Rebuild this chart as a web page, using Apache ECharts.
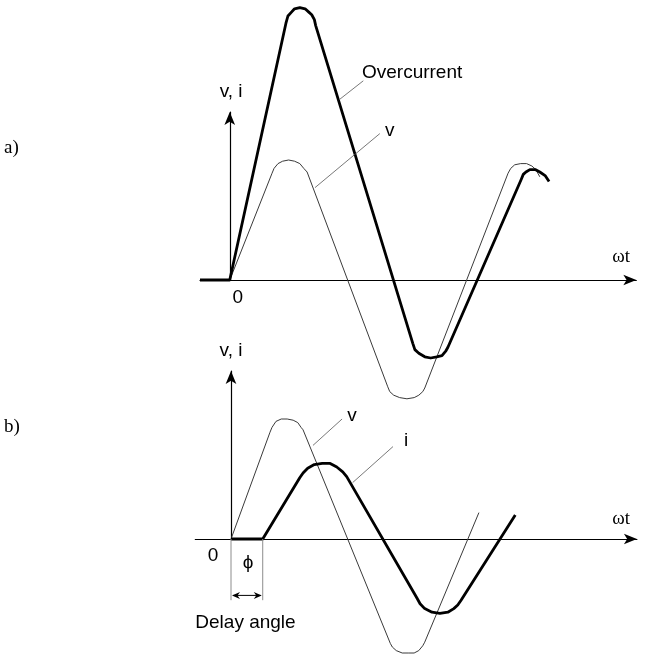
<!DOCTYPE html>
<html>
<head>
<meta charset="utf-8">
<script src="https://cdn.jsdelivr.net/npm/echarts@6/dist/echarts.min.js"></script>
<style>
  html, body { margin: 0; padding: 0; background: #fff; }
  #chart { width: 646px; height: 654px; }
</style>
</head>
<body>
<div id="chart"></div>
<script>
// Waveforms as [ωt in electrical degrees, amplitude relative to the voltage peak].

// a) Switching at the voltage zero: the current overshoots (overcurrent).
const overcurrentA = [
  [-45, 0], [0, 0],
  [85, 2.14], [88, 2.2], [93, 2.23], [98, 2.26], [106, 2.27], [114, 2.26], [120, 2.23], [124, 2.21], [128, 2.17], [130, 2.12],
  [277, -0.53], [280, -0.58], [286, -0.61], [295, -0.64], [304, -0.65], [313, -0.64], [321, -0.63], [327, -0.59], [330, -0.56],
  [441, 0.84], [444, 0.88], [448, 0.9], [454, 0.92], [462, 0.92], [469, 0.9], [477, 0.87], [483, 0.82]
];
const voltageA = [
  [0, 0],
  [64, 0.89], [67, 0.93], [73, 0.97], [80, 0.99], [89, 1.0], [98, 0.99], [106, 0.97], [112, 0.93], [117, 0.9],
  [239, -0.89], [242, -0.93], [248, -0.96], [257, -0.98], [268, -0.99], [279, -0.98], [286, -0.96], [292, -0.93], [295, -0.9],
  [421, 0.89], [425, 0.93], [431, 0.96], [440, 0.97], [449, 0.97], [457, 0.95], [463, 0.92], [469, 0.86]
];

// b) Switching delayed by the angle φ: the current stays symmetrical.
const delayAngle = 48;
const voltageB = [
  [0, 0],
  [59, 0.89], [62, 0.93], [68, 0.98], [76, 1.0], [85, 1.0], [94, 0.99], [101, 0.97], [106, 0.93], [109, 0.91],
  [241, -0.87], [244, -0.9], [250, -0.93], [259, -0.95], [268, -0.95], [277, -0.95], [284, -0.93], [290, -0.89], [293, -0.86],
  [375, 0.22]
];
const currentB = [
  [0, 0], [delayAngle, 0],
  [104, 0.51], [109, 0.55], [116, 0.59], [126, 0.62], [138, 0.63], [150, 0.63], [160, 0.6], [169, 0.56], [175, 0.52],
  [281, -0.49], [286, -0.54], [293, -0.58], [304, -0.61], [316, -0.62], [328, -0.61], [337, -0.58], [343, -0.55], [348, -0.51],
  [430, 0.2]
];

// Text of the drawing
const panelTags = ['a)', 'b)'];
const axisNameY = 'v, i';
const axisNameX = 'ωt';
const originText = '0';
const labelOvercurrent = 'Overcurrent';
const labelVoltage = 'v';
const labelCurrent = 'i';
const labelPhi = 'ϕ';
const labelDelay = 'Delay angle';

// ---- layout ----
const PX_PER_DEG = 119 / 180;
const PX_PER_UNIT = 120;
const panels = [
  { originX: 229.75, originY: 280, xMin: -45, xMax: 615, yMax: 1.4 },
  { originX: 231, originY: 539, xMin: -54, xMax: 614, yMax: 1.4 }
];

const SANS = '"Liberation Sans", Arial, sans-serif';
const SERIF = '"Liberation Serif", "Times New Roman", serif';

const axisLine = {
  show: true,
  onZero: true,
  symbol: ['none', 'arrow'],
  symbolSize: [8, 13],
  lineStyle: { color: '#000', width: 1.2 }
};
const hidden = {
  axisTick: { show: false },
  axisLabel: { show: false },
  splitLine: { show: false }
};

const grids = panels.map(p => ({
  left: p.originX + p.xMin * PX_PER_DEG,
  top: p.originY - p.yMax * PX_PER_UNIT,
  width: (p.xMax - p.xMin) * PX_PER_DEG,
  height: p.yMax * PX_PER_UNIT,
  containLabel: false
}));

const xAxes = panels.map((p, i) => Object.assign({
  gridIndex: i, type: 'value', min: p.xMin, max: p.xMax, axisLine
}, hidden));
const yAxes = panels.map((p, i) => Object.assign({
  gridIndex: i, type: 'value', min: 0, max: p.yMax, axisLine
}, hidden));

function wave(panel, data, thick) {
  return {
    type: 'line',
    xAxisIndex: panel,
    yAxisIndex: panel,
    data: data,
    symbol: 'none',
    showSymbol: false,
    clip: false,
    silent: true,
    smooth: false,
    z: thick ? 4 : 3,
    lineStyle: thick
      ? { color: '#000', width: 2.8, join: 'round', cap: 'butt' }
      : { color: '#3a3a3a', width: 1, join: 'round' }
  };
}

const chart = echarts.init(document.getElementById('chart'), null, { renderer: 'canvas' });
chart.setOption({
  animation: false,
  backgroundColor: '#fff',
  grid: grids,
  xAxis: xAxes,
  yAxis: yAxes,
  series: [
    wave(0, voltageA, false),
    wave(0, overcurrentA, true),
    wave(1, voltageB, false),
    wave(1, currentB, true)
  ]
});

// ---- annotations, anchored in each panel's data coordinates ----
const px = (panel, pt) => chart.convertToPixel({ gridIndex: panel }, pt);

function text(panel, pt, str, opts) {
  const p = px(panel, pt);
  return {
    type: 'text', x: p[0], y: p[1], z: 10,
    style: Object.assign({
      text: str, fill: '#000', font: '19px ' + SANS,
      align: 'center', verticalAlign: 'middle'
    }, opts || {})
  };
}
function leader(panel, a, b, color, width) {
  const p = px(panel, a), q = px(panel, b);
  return {
    type: 'line', z: 5,
    shape: { x1: p[0], y1: p[1], x2: q[0], y2: q[1] },
    style: { stroke: color || '#555', lineWidth: width || 0.8 }
  };
}
function arrowHead(tip, dir) {
  // small barbed arrowhead pointing along dir (+1 right, -1 left)
  const [x, y] = tip;
  return {
    type: 'polygon', z: 6,
    shape: { points: [[x, y], [x - dir * 8, y - 3.5], [x - dir * 5.5, y], [x - dir * 8, y + 3.5]] },
    style: { fill: '#000' }
  };
}

const els = [];
// panel a
els.push(text(0, [2, 1.57], axisNameY));
els.push(text(0, [12, -0.15], originText));
els.push(text(0, [592, 0.19], axisNameX, { font: '19px ' + SERIF }));
els.push(leader(0, [165, 1.5], [202, 1.66]));
els.push(text(0, [200, 1.73], labelOvercurrent, { align: 'left' }));
els.push(leader(0, [129, 0.77], [227, 1.22]));
els.push(text(0, [242, 1.24], labelVoltage));

// panel b
els.push(text(1, [0, 1.57], axisNameY));
els.push(text(1, [-27, -0.14], originText));
els.push(text(1, [590, 0.17], axisNameX, { font: '19px ' + SERIF }));
els.push(leader(1, [124, 0.78], [168, 1.0]));
els.push(text(1, [183, 1.03], labelVoltage));
els.push(leader(1, [184, 0.47], [245, 0.77]));
els.push(text(1, [265, 0.82], labelCurrent));

// delay-angle bracket
els.push(leader(1, [0, 0], [0, -0.51], '#8c8c8c', 1));
els.push(leader(1, [delayAngle, 0], [delayAngle, -0.51], '#8c8c8c', 1));
const aL = px(1, [0, -0.47]), aR = px(1, [delayAngle, -0.47]);
els.push({ type: 'line', z: 6, shape: { x1: aL[0] + 2, y1: aL[1], x2: aR[0] - 2, y2: aR[1] },
           style: { stroke: '#000', lineWidth: 1 } });
els.push(arrowHead([aL[0] + 1, aL[1]], -1));
els.push(arrowHead([aR[0] - 1, aR[1]], 1));
els.push(text(1, [delayAngle / 2 + 2, -0.2], labelPhi));
els.push(text(1, [-54, -0.7], labelDelay, { align: 'left' }));

// panel tags
els.push({ type: 'text', x: 4, y: 148, z: 10,
           style: { text: panelTags[0], font: '19px ' + SERIF, fill: '#000', align: 'left', verticalAlign: 'middle' } });
els.push({ type: 'text', x: 4, y: 427, z: 10,
           style: { text: panelTags[1], font: '19px ' + SERIF, fill: '#000', align: 'left', verticalAlign: 'middle' } });

chart.setOption({ graphic: { elements: els } });
</script>
</body>
</html>
